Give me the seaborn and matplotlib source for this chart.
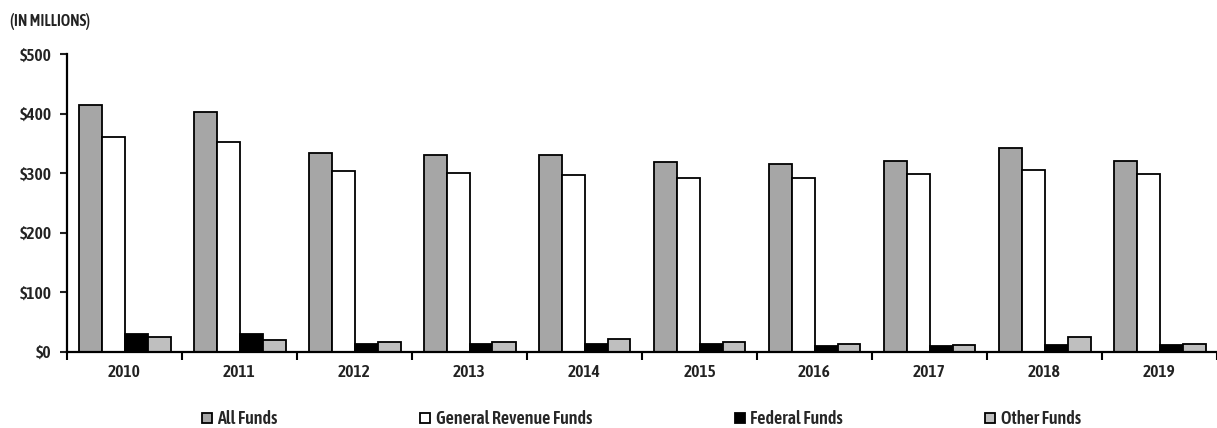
import pandas as pd
import seaborn as sns
import matplotlib.pyplot as plt
from matplotlib import font_manager as fm
from matplotlib.ticker import FuncFormatter

# values (in millions)
years = ['2010', '2011', '2012', '2013', '2014', '2015', '2016', '2017', '2018', '2019']
all_funds = [415, 402, 334, 330, 331, 319, 315, 320, 342, 321]
general_revenue = [360, 353, 303, 300, 297, 291, 292, 298, 306, 298]
federal = [30, 30, 13.5, 13.5, 13.5, 13.5, 9.6, 9.6, 10.6, 10.6]
other = [25, 19.6, 16.3, 16, 22, 15.8, 12.3, 11.7, 24.6, 12.9]
series_names = ['All Funds', 'General Revenue Funds', 'Federal Funds', 'Other Funds']
colors = ['#a6a6a6', '#ffffff', '#000000', '#bfbfbf']

rows = []
for name, vals in zip(series_names, [all_funds, general_revenue, federal, other]):
    for y, v in zip(years, vals):
        rows.append({'Year': y, 'Fund': name, 'Amount': v})
df = pd.DataFrame(rows)

sns.set_style('white')

# look for a narrow font, the original uses a condensed face (prefer a heavier one)
cands = [f for f in fm.fontManager.ttflist
         if f.stretch in ('condensed', 'semi-condensed', 'extra-condensed')
         or 'Narrow' in f.name or 'Condensed' in f.name]
cands = [f for f in cands if f.style == 'normal']
narrow = None
for f in sorted(cands, key=lambda f: abs((f.weight if isinstance(f.weight, int) else 400) - 600)):
    narrow = f
    break
if narrow is not None:
    fm.fontManager.addfont(narrow.fname)
    plt.rcParams['font.family'] = [narrow.name, 'DejaVu Sans']
    plt.rcParams['font.stretch'] = narrow.stretch
    plt.rcParams['font.weight'] = narrow.weight
else:
    plt.rcParams['font.family'] = ['Roboto', 'DejaVu Sans']
    plt.rcParams['font.weight'] = 'medium'

fig = plt.figure(figsize=(12.17, 4.28), dpi=100)
ax = fig.add_axes([67 / 1217, 76.3 / 428, 1150 / 1217, 297.7 / 428])

sns.barplot(data=df, x='Year', y='Amount', hue='Fund', hue_order=series_names,
            palette=colors, edgecolor='black', linewidth=1.3, saturation=1,
            width=0.8, ax=ax)

ax.set_xlim(-0.5, 9.5)
ax.set_ylim(0, 500)
ax.set_yticks(range(0, 501, 100))
ax.yaxis.set_major_formatter(FuncFormatter(lambda v, p: '${:.0f}'.format(v)))
ax.set_xlabel('')
ax.set_ylabel('')

for s in ['top', 'right']:
    ax.spines[s].set_visible(False)
for s in ['left', 'bottom']:
    ax.spines[s].set_color('black')
    ax.spines[s].set_linewidth(1.6)

ax.tick_params(axis='y', which='major', direction='out', length=5, width=1.5,
               left=True, labelsize=12.5, pad=6, colors='#222222')
ax.tick_params(axis='x', which='major', length=0, labelsize=12.5, pad=9,
               colors='#222222')
ax.set_xticks([i - 0.5 for i in range(11)], minor=True)
ax.tick_params(axis='x', which='minor', direction='out', length=6, width=1.5,
               bottom=True, color='black')

fig.text(0.008, 0.95, '(IN MILLIONS)', fontsize=11.5, color='#222222',
         ha='left', va='center')

handles, labels = ax.get_legend_handles_labels()
ax.get_legend().remove()
fig.legend(handles, labels, loc='center', bbox_to_anchor=(0.527, 0.02),
           ncol=4, frameon=False, fontsize=13, handlelength=0.55,
           handleheight=0.55, handletextpad=0.3, columnspacing=7.9)

fig.savefig('out.png', dpi=100)
